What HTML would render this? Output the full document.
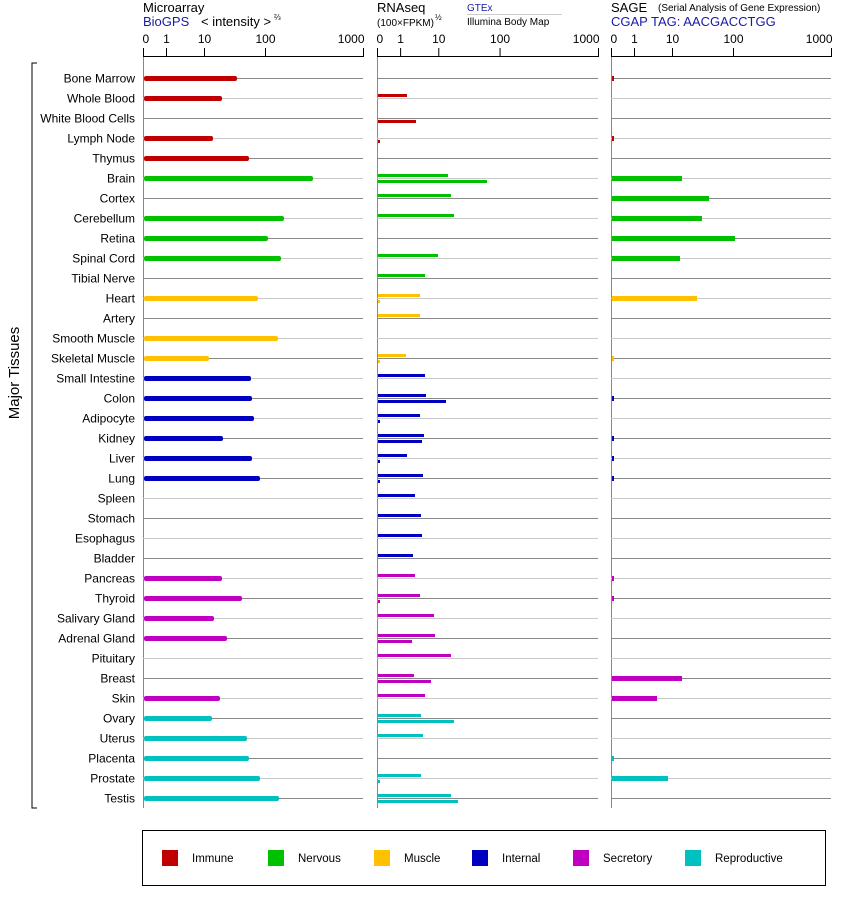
<!DOCTYPE html>
<html><head><meta charset="utf-8"><style>
body{margin:0;background:#fff;}
svg{display:block;font-family:"Liberation Sans",Arial,sans-serif;}
</style></head><body>
<svg id="s" width="842" height="900" xmlns="http://www.w3.org/2000/svg">
<rect width="842" height="900" fill="#fff"/>
<text x="143" y="12" font-size="13">Microarray</text>
<text x="143" y="26" font-size="13" fill="#1a1aa6">BioGPS</text>
<text x="201" y="26" font-size="13">&lt; intensity &gt;</text>
<text x="274" y="20" font-size="8">⅔</text>
<text x="377" y="12" font-size="13">RNAseq</text>
<text x="377" y="26" font-size="10">(100×FPKM)</text>
<text x="435" y="20" font-size="8">½</text>
<text x="467" y="11" font-size="10" fill="#1a1aa6">GTEx</text>
<line x1="467" y1="14.5" x2="562" y2="14.5" stroke="#ccc"/>
<text x="467" y="25" font-size="10">Illumina Body Map</text>
<text x="611" y="12" font-size="13">SAGE</text>
<text x="658" y="11" font-size="10">(Serial Analysis of Gene Expression)</text>
<text x="611" y="26" font-size="13" fill="#1a1aa6">CGAP TAG: AACGACCTGG</text>
<path d="M37 63 H32 V808 H37" fill="none" stroke="#000"/>
<text transform="translate(19,373) rotate(-90)" font-size="15" text-anchor="middle">Major Tissues</text>
<rect x="142.5" y="830.5" width="683" height="55" fill="none" stroke="#000"/>
<g id="g"></g>
</svg>
<script>
const g=document.getElementById('g');let h='';
const C={I:'#c00000',N:'#00c000',M:'#ffc000',T:'#0000c0',S:'#c000c0',R:'#00c0c0'};
const rows=[["Bone Marrow","I",237,0,0,613],["Whole Blood","I",222,407,0,0],["White Blood Cells","I",0,0,416,0],["Lymph Node","I",213,0,379,613],["Thymus","I",249,0,0,0],
["Brain","N",313,448,487,682],["Cortex","N",0,451,0,709],["Cerebellum","N",284,454,0,702],["Retina","N",268,0,0,735],["Spinal Cord","N",281,438,0,680],["Tibial Nerve","N",0,425,0,0],
["Heart","M",258,420,379,697],["Artery","M",0,420,0,0],["Smooth Muscle","M",278,0,0,0],["Skeletal Muscle","M",209,406,378,612],
["Small Intestine","T",251,425,0,0],["Colon","T",252,426,446,613],["Adipocyte","T",254,420,379,0],["Kidney","T",223,424,422,613],["Liver","T",252,407,378,613],["Lung","T",260,423,379,613],["Spleen","T",0,415,0,0],["Stomach","T",0,421,0,0],["Esophagus","T",0,422,0,0],["Bladder","T",0,413,0,0],
["Pancreas","S",222,415,0,613],["Thyroid","S",242,420,379,613],["Salivary Gland","S",214,434,0,0],["Adrenal Gland","S",227,435,412,0],["Pituitary","S",0,451,0,0],["Breast","S",0,414,431,682],["Skin","S",220,425,0,657],
["Ovary","R",212,421,454,0],["Uterus","R",247,423,0,0],["Placenta","R",249,0,0,613],["Prostate","R",260,421,379,668],["Testis","R",279,451,458,0]];
const P=[[143,363],[377,598],[611,831]];
const tk=[0,23,61,122,220];const tl=["0","1","10","100","1000"];
P.forEach(p=>{
 h+=`<line x1="${p[0]}" y1="56.5" x2="${p[1]}" y2="56.5" stroke="#000"/>`;
 tk.forEach((t,i)=>{let x=p[0]+t*(p[1]-p[0])/220+0.5;let a=i==0?'start':(i==4?'end':'middle');let tx=i==0?x-1:(i==4?x+1:x);
 h+=`<line x1="${x}" y1="48" x2="${x}" y2="57" stroke="#000"/><text x="${tx}" y="43" font-size="12" text-anchor="${a}">${tl[i]}</text>`;});
 h+=`<line x1="${p[0]+0.5}" y1="57" x2="${p[0]+0.5}" y2="808" stroke="#888"/>`;
});
rows.forEach((r,i)=>{const y=78+20*i+0.5;const col=C[r[1]];
 h+=`<text x="135" y="${y+4}" font-size="12" text-anchor="end">${r[0]}</text>`;
 P.forEach(p=>{h+=`<line x1="${p[0]}" y1="${y}" x2="${p[1]}" y2="${y}" stroke="${i%2?'#c8c8c8':'#888'}"/>`;});
 if(r[2])h+=`<rect x="144" y="${y-2.5}" width="${r[2]-144}" height="5" rx="2" fill="${col}"/>`;
 if(r[3])h+=`<rect x="378" y="${y-4.5}" width="${r[3]-378}" height="3" fill="${col}"/>`;
 if(r[4])h+=`<rect x="378" y="${y+1.5}" width="${Math.max(2,r[4]-378)}" height="3" fill="${col}"/>`;
 if(r[5])h+=`<rect x="612" y="${y-2.5}" width="${Math.max(2,r[5]-612)}" height="5" fill="${col}"/>`;
});
const L=[["Immune","I",162],["Nervous","N",268],["Muscle","M",374],["Internal","T",472],["Secretory","S",573],["Reproductive","R",685]];
L.forEach(l=>{h+=`<rect x="${l[2]}" y="850" width="16" height="16" fill="${C[l[1]]}"/><text x="${l[2]+30}" y="862" font-size="11.5">${l[0]}</text>`;});
g.innerHTML=h;
</script>
</body></html>
